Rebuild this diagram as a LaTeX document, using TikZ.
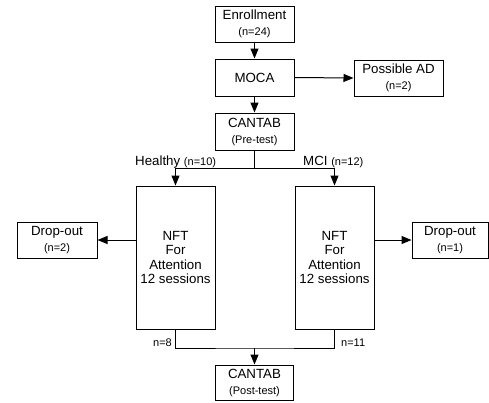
\documentclass[tikz,border=0pt]{standalone}
\usepackage{fontspec}
\setmainfont{Liberation Sans}
\usetikzlibrary{arrows.meta}
\newcommand{\smtxt}[1]{{\fontsize{11}{16}\selectfont #1}}
\tikzset{
  box/.style={draw, line width=1pt, align=center, inner sep=0pt,
    font=\fontsize{13.3}{16}\selectfont},
  tallbox/.style={box, font=\fontsize{13.3}{14.5}\selectfont},
  arr/.style={line width=1pt, -{Triangle[length=10pt,width=8pt]}},
  ln/.style={line width=1pt},
  lbl/.style={inner sep=0pt, font=\fontsize{13.3}{16}\selectfont},
  slbl/.style={inner sep=0pt, font=\fontsize{11}{13}\selectfont}
}
\begin{document}
\begin{tikzpicture}[x=1pt,y=-1pt]
\useasboundingbox (0,0) rectangle (489,402);
\node[box, minimum width=79pt, minimum height=36pt] (enr) at (254.5,24) {Enrollment\\\smtxt{(n=24)}};
\node[box, minimum width=79pt, minimum height=37pt] (moca) at (254.5,77.5) {MOCA};
\node[box, minimum width=89pt, minimum height=36pt] (ad) at (398.5,78) {Possible AD\\\smtxt{(n=2)}};
\node[box, minimum width=79pt, minimum height=37pt] (pre) at (254.5,131.5) {CANTAB\\\smtxt{(Pre-test)}};
\node[tallbox, minimum width=79pt, minimum height=143pt] (lnft) at (175.5,257.5) {NFT\\For\\Attention\\12 sessions};
\node[tallbox, minimum width=79pt, minimum height=143pt] (rnft) at (334.5,257.5) {NFT\\For\\Attention\\12 sessions};
\node[box, minimum width=80pt, minimum height=36pt] (ldrop) at (57,240) {Drop-out\\\smtxt{(n=2)}};
\node[box, minimum width=76pt, minimum height=36pt] (rdrop) at (450,240) {Drop-out\\\smtxt{(n=1)}};
\node[box, minimum width=78pt, minimum height=35pt] (post) at (254.5,382.5) {CANTAB\\\smtxt{(Post-test)}};
\coordinate (split) at (254.5,168);
\coordinate (join) at (254.5,348);
\draw[arr] (enr.south) -- (moca.north);
\draw[arr] (moca.east) -- (ad.west);
\draw[arr] (moca.south) -- (pre.north);
\draw[ln] (pre.south) -- (split);
\draw[arr] (split) -| (lnft.north);
\draw[arr] (split) -| (rnft.north);
\draw[arr] (lnft.west |- ldrop.east) -- (ldrop.east);
\draw[arr] (rnft.east |- rdrop.west) -- (rdrop.west);
\draw[ln] (lnft.south) |- (join) -| (rnft.south);
\draw[arr] (join) -- (post.north);
\node[lbl, anchor=base west] (hl) at (135,165) {Healthy \smtxt{(n=10)}};
\node[lbl, anchor=base west] (mci) at (303,165) {MCI \smtxt{(n=12)}};
\node[slbl, anchor=east] (n8) at (172,343) {n=8};
\node[slbl, anchor=west] (n11) at (341,343) {n=11};
\end{tikzpicture}
\end{document}
